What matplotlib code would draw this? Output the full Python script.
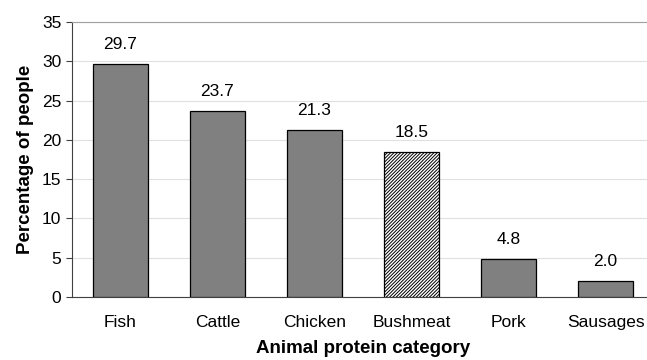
import numpy as np
import matplotlib.pyplot as plt

plt.rcParams['font.family'] = ['Liberation Sans', 'DejaVu Sans']
plt.rcParams['hatch.linewidth'] = 0.7
plt.rcParams['hatch.color'] = '#7a7a7a'

categories = ['Fish', 'Cattle', 'Chicken', 'Bushmeat', 'Pork', 'Sausages']
values = [29.7, 23.7, 21.3, 18.5, 4.8, 2.0]
y_ticks = [0, 5, 10, 15, 20, 25, 30, 35]

fig = plt.figure(figsize=(6.47, 3.6), dpi=100)
ax = fig.add_axes([0.111, 0.175, 0.9, 0.764])

x = np.arange(len(categories))
colors = ['#808080'] * len(categories)
colors[3] = 'white'
bars = ax.bar(x, values, width=0.56, color=colors, edgecolor='black',
              linewidth=0.9, zorder=3)
bars[3].set_hatch('//////////')

for xi, v in zip(x, values):
    ax.text(xi, v + 1.5, f'{v:.1f}', ha='center', va='bottom', fontsize=12.5)

ax.set_xlim(-0.5, len(categories) - 0.5)
ax.set_ylim(0, 35)
ax.set_yticks(y_ticks)
ax.set_xticks(x)
ax.set_xticklabels(categories, fontsize=12.5)
ax.tick_params(axis='x', length=0, pad=13)
ax.tick_params(axis='y', labelsize=12.5, length=4, direction='out', color='#404040')
ax.yaxis.grid(True, color='#e0e0e0', linewidth=0.8, zorder=0)

ax.spines['right'].set_visible(False)
ax.spines['top'].set_color('#a0a0a0')
ax.spines['left'].set_color('#404040')
ax.spines['bottom'].set_color('#404040')

ax.set_ylabel('Percentage of people', fontsize=13.5, fontweight='bold', labelpad=6)
ax.set_xlabel('Animal protein category', fontsize=13.5, fontweight='bold', labelpad=7)

fig.savefig('out.png', dpi=100)
